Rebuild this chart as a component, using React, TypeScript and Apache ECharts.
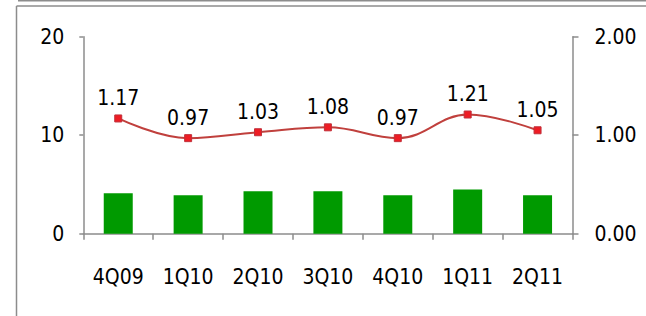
import React, { useEffect, useRef } from "react";
import * as echarts from "echarts";

const categories = ["4Q09", "1Q10", "2Q10", "3Q10", "4Q10", "1Q11", "2Q11"];
const barValues = [4.1, 3.9, 4.3, 4.3, 3.9, 4.5, 3.9];
const lineValues = [1.17, 0.97, 1.03, 1.08, 0.97, 1.21, 1.05];
const leftTicks = [0, 10, 20];
const rightTicks = [0, 1, 2];

const FONT = "'Liberation Sans Narrow', 'DejaVu Sans Condensed', 'Liberation Sans', sans-serif";

export default function App() {
  const ref = useRef<HTMLDivElement>(null);
  useEffect(() => {
    if (!ref.current) return;
    const chart = echarts.init(ref.current, null, { renderer: "svg" });
    const axisLine = { show: true, lineStyle: { color: "#8c8c8c", width: 1.5 } };
    chart.setOption({
      animation: false,
      backgroundColor: "#ffffff",
      textStyle: { fontFamily: FONT },
      grid: { left: 83.3, right: 73.5, top: 36.7, bottom: 82.3 },
      graphic: [
        { type: "line", shape: { x1: 18, y1: 0.75, x2: 646, y2: 0.75 }, style: { stroke: "#8c8c8c", lineWidth: 1.5 } },
        { type: "line", shape: { x1: 16.5, y1: 6, x2: 646, y2: 6 }, style: { stroke: "#8c8c8c", lineWidth: 1.5 } },
        { type: "line", shape: { x1: 16.5, y1: 6, x2: 16.5, y2: 316 }, style: { stroke: "#8c8c8c", lineWidth: 1.5 } },
      ],
      xAxis: {
        type: "category",
        data: categories,
        axisLine,
        axisTick: { show: true, alignWithLabel: false, length: 6, lineStyle: { color: "#8c8c8c", width: 1.5 } },
        axisLabel: { color: "#000", fontSize: 21, fontFamily: FONT, margin: 33 },
      },
      yAxis: [
        {
          type: "value",
          min: leftTicks[0],
          max: leftTicks[leftTicks.length - 1],
          interval: 10,
          axisLine,
          axisTick: { show: true, inside: false, length: 4, lineStyle: { color: "#8c8c8c", width: 1.5 } },
          splitLine: { show: false },
          axisLabel: { color: "#000", fontSize: 21, fontFamily: FONT, margin: 19 },
        },
        {
          type: "value",
          min: rightTicks[0],
          max: rightTicks[rightTicks.length - 1],
          interval: 1,
          position: "right",
          axisLine,
          axisTick: { show: true, length: 6, lineStyle: { color: "#8c8c8c", width: 1.5 } },
          splitLine: { show: false },
          axisLabel: { color: "#000", fontSize: 21, fontFamily: FONT, margin: 22, formatter: (v: number) => v.toFixed(2) },
        },
      ],
      series: [
        {
          type: "bar",
          data: barValues,
          yAxisIndex: 0,
          barWidth: 29,
          itemStyle: { color: "#009a00" },
        },
        {
          type: "line",
          data: lineValues,
          yAxisIndex: 1,
          smooth: 0.4,
          symbol: "rect",
          symbolSize: 7,
          lineStyle: { color: "#c0403d", width: 2 },
          itemStyle: { color: "#ee1c24", borderColor: "#c0303a", borderWidth: 1 },
          label: {
            show: true,
            position: "top",
            distance: 6,
            color: "#000",
            fontSize: 21,
            fontFamily: FONT,
            formatter: (p: any) => p.value.toFixed(2),
          },
        },
      ],
    });
    return () => chart.dispose();
  }, []);
  return <div ref={ref} style={{ position: "fixed", left: 0, top: 0, width: 646, height: 316 }} />;
}
